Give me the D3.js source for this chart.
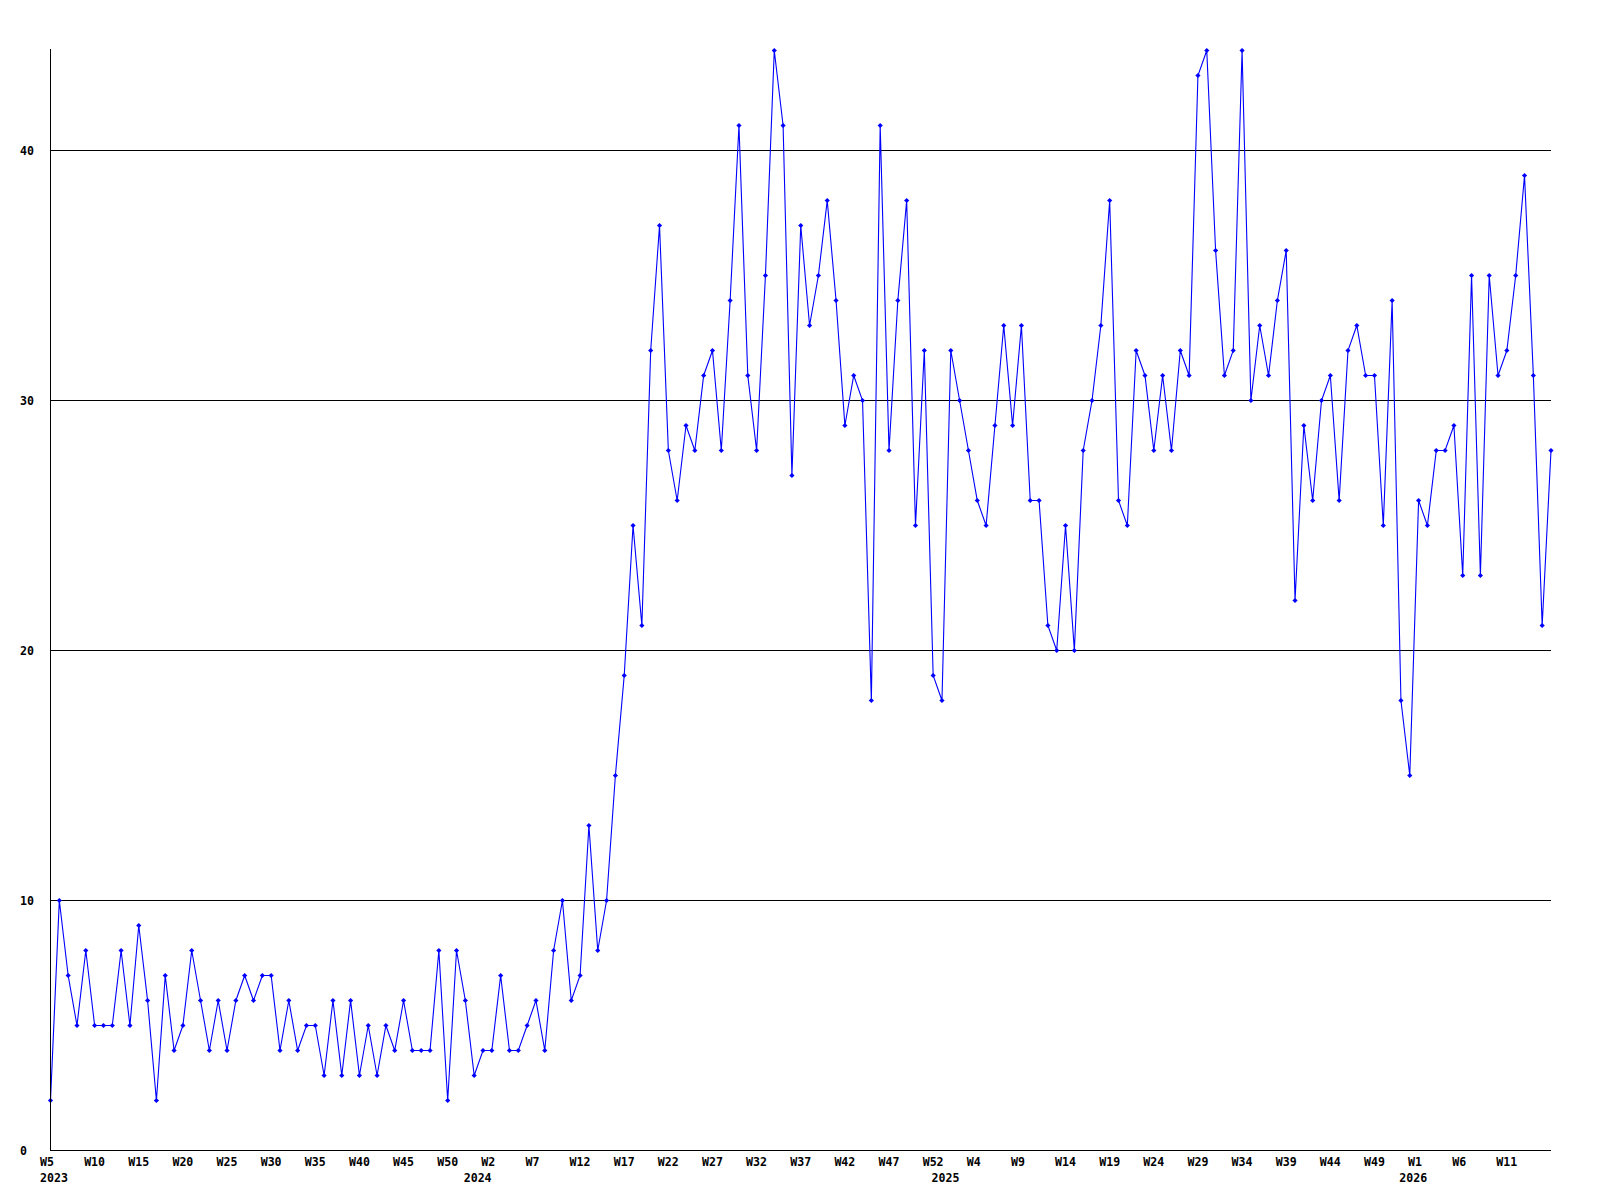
<!DOCTYPE html>
<html>
<head>
<meta charset="utf-8">
<script src="https://d3js.org/d3.v7.min.js"></script>
<style>
    body { margin: 0; background: #fff; }
    text { font-family: "DejaVu Sans Mono", monospace; font-weight: bold; font-size: 11.6px; fill: #000; }
</style>
</head>
<body>
<svg width=1600 height=1200></svg>
<script>
    // weekly counts, 2023 W5 .. 2026
    var values = [
        2,10,7,5,8,5,5,5,8,5,
        9,6,2,7,4,5,8,6,4,6,
        4,6,7,6,7,7,4,6,4,5,
        5,3,6,3,6,3,5,3,5,4,
        6,4,4,4,8,2,8,6,3,4,
        4,7,4,4,5,6,4,8,10,6,
        7,13,8,10,15,19,25,21,32,37,
        28,26,29,28,31,32,28,34,41,31,
        28,35,44,41,27,37,33,35,38,34,
        29,31,30,18,41,28,34,38,25,32,
        19,18,32,30,28,26,25,29,33,29,
        33,26,26,21,20,25,20,28,30,33,
        38,26,25,32,31,28,31,28,32,31,
        43,44,36,31,32,44,30,33,31,34,
        36,22,29,26,30,31,26,32,33,31,
        31,25,34,18,15,26,25,28,28,29,
        23,35,23,35,31,32,35,39,31,21,28
    ];
    var weekLabels = ["W5","W10","W15","W20","W25","W30","W35","W40","W45","W50",
                      "W2","W7","W12","W17","W22","W27","W32","W37","W42","W47",
                      "W52","W4","W9","W14","W19","W24","W29","W34","W39","W44",
                      "W49","W1","W6","W11"];
    var weekLabelIdx = [0,5,10,15,20,25,30,35,40,45,50,55,60,65,70,75,80,85,90,95,
                        100,105,110,115,120,125,130,135,140,145,150,155,160,165];
    var yearLabels = ["2023","2024","2025","2026"];
    var yearLabelIdx = [0,48,101,154];
    var yTicks = [0,10,20,30,40];
    var gridTicks = [10,20,30,40];

    var plotLeft = 50.5, plotRight = 1551, plotTop = 50.5, plotBottom = 1150.5;
    var svg = d3.select("svg");

    var x = d3.scaleLinear().domain([0, values.length - 1]).range([plotLeft, plotRight]);
    var y = d3.scaleLinear().domain([0, 44]).range([plotBottom, plotTop]);

    // horizontal grid
    var grid = svg.append("g")
        .attr("transform", "translate(" + plotLeft + ",0)")
        .call(d3.axisRight(y).tickValues(gridTicks).tickSize(plotRight - plotLeft).tickFormat("").offset(0));
    grid.select(".domain").remove();
    grid.selectAll("line").attr("stroke", "#000").attr("shape-rendering", "crispEdges");

    // data line
    var line = d3.line()
        .x(function(d, i) { return x(i); })
        .y(function(d) { return y(d); });

    svg.append("path")
        .datum(values)
        .attr("fill", "none")
        .attr("stroke", "#0000ff")
        .attr("stroke-width", 1.1)
        .attr("d", line);

    svg.append("g").selectAll("path")
        .data(values)
        .enter().append("path")
            .attr("transform", function(d, i) { return "translate(" + x(i) + "," + y(d) + ")"; })
            .attr("d", "M-2.6,0L0,-2.6L2.6,0L0,2.6Z")
            .attr("fill", "#0000ff");

    // axes lines
    svg.append("line")
        .attr("x1", plotLeft).attr("x2", plotLeft).attr("y1", 49).attr("y2", plotBottom)
        .attr("stroke", "#000").attr("shape-rendering", "crispEdges");
    svg.append("line")
        .attr("x1", plotLeft).attr("x2", plotRight).attr("y1", plotBottom).attr("y2", plotBottom)
        .attr("stroke", "#000").attr("shape-rendering", "crispEdges");

    // y labels
    var yAxis = svg.append("g")
        .attr("transform", "translate(" + plotLeft + ",0)")
        .call(d3.axisLeft(y).tickValues(yTicks).tickSize(0).offset(0));
    yAxis.select(".domain").remove();
    yAxis.selectAll("text")
        .attr("x", 20 - plotLeft)
        .attr("dy", "0.35em")
        .style("text-anchor", "start");

    // week labels
    var xAxis = svg.append("g")
        .attr("transform", "translate(0," + plotBottom + ")")
        .call(d3.axisBottom(x).tickValues(weekLabelIdx).tickSize(0).offset(0)
            .tickFormat(function(d, i) { return weekLabels[i]; }));
    xAxis.select(".domain").remove();
    xAxis.selectAll("text")
        .attr("y", 15.5).attr("dy", null)
        .attr("dx", -10.5)
        .style("text-anchor", "start");

    // year labels
    var yearAxis = svg.append("g")
        .attr("transform", "translate(0," + plotBottom + ")")
        .call(d3.axisBottom(x).tickValues(yearLabelIdx).tickSize(0).offset(0)
            .tickFormat(function(d, i) { return yearLabels[i]; }));
    yearAxis.select(".domain").remove();
    yearAxis.selectAll("text")
        .attr("y", 31.5).attr("dy", null)
        .attr("dx", -10.5)
        .style("text-anchor", "start");

    svg.selectAll("g").attr("font-size", null).attr("font-family", null);
</script>
</body>
</html>
